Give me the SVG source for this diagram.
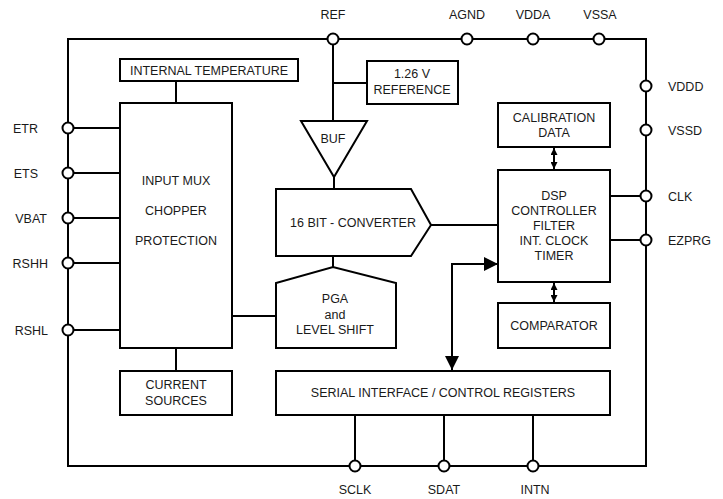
<svg xmlns="http://www.w3.org/2000/svg" width="723" height="499" viewBox="0 0 723 499">
<defs>
<style>
.b{fill:#fff;stroke:#000;stroke-width:2}
.l{fill:none;stroke:#000;stroke-width:2}
.p{fill:#fff;stroke:#000;stroke-width:2}
text{font-family:"Liberation Sans",Arial,sans-serif;font-size:12.5px;fill:#1a1a1a}
.c{text-anchor:middle}
.r{text-anchor:end}
</style>
<marker id="big" viewBox="0 0 10 10" refX="10" refY="5" markerWidth="18" markerHeight="14" markerUnits="userSpaceOnUse" orient="auto-start-reverse"><path d="M0,0L10,5L0,10z" fill="#000"/></marker>
<marker id="sm" viewBox="0 0 10 10" refX="10" refY="5" markerWidth="7" markerHeight="7" markerUnits="userSpaceOnUse" orient="auto-start-reverse"><path d="M0,0L10,5L0,10z" fill="#000"/></marker>
</defs>
<rect width="723" height="499" fill="#fff"/>
<g id="connectors">
<rect class="l" x="68" y="39" width="578" height="427"/>
<path class="l" d="M68,128H120M68,173H120M68,218H120M68,263H120M68,330H120"/>
<path class="l" d="M176,81V103M176,348V371M232,316H276"/>
<path class="l" d="M333,39V121M333,83H367M334,177V189M333,256V267"/>
<path class="l" d="M431,225H498M610,196H646M610,240H646"/>
<path class="l" d="M355,415V466M444,415V466M533,415V466"/>
<path class="l" d="M554,148V169" stroke-width="1.5" marker-start="url(#sm)" marker-end="url(#sm)"/>
<path class="l" d="M554,283V302" stroke-width="1.5" marker-start="url(#sm)" marker-end="url(#sm)"/>
<path class="l" d="M452,370V264H498" marker-start="url(#big)" marker-end="url(#big)"/>
</g>
<g id="pins">
<circle class="p" cx="333" cy="39" r="5.5"/>
<circle class="p" cx="467" cy="39" r="5.5"/>
<circle class="p" cx="533" cy="39" r="5.5"/>
<circle class="p" cx="599" cy="39" r="5.5"/>
<circle class="p" cx="646" cy="86" r="5.5"/>
<circle class="p" cx="646" cy="130" r="5.5"/>
<circle class="p" cx="646" cy="196" r="5.5"/>
<circle class="p" cx="646" cy="240" r="5.5"/>
<circle class="p" cx="68" cy="128" r="5.5"/>
<circle class="p" cx="68" cy="173" r="5.5"/>
<circle class="p" cx="68" cy="218" r="5.5"/>
<circle class="p" cx="68" cy="263" r="5.5"/>
<circle class="p" cx="68" cy="330" r="5.5"/>
<circle class="p" cx="355" cy="466" r="5.5"/>
<circle class="p" cx="444" cy="466" r="5.5"/>
<circle class="p" cx="533" cy="466" r="5.5"/>
<text class="c" x="333" y="19">REF</text>
<text class="c" x="467" y="19">AGND</text>
<text class="c" x="533" y="19">VDDA</text>
<text class="c" x="600" y="19">VSSA</text>
<text x="668" y="91">VDDD</text>
<text x="668" y="135">VSSD</text>
<text x="668" y="201">CLK</text>
<text x="668" y="245">EZPRG</text>
<text class="r" x="38" y="133">ETR</text>
<text class="r" x="38" y="178">ETS</text>
<text class="r" x="47" y="223">VBAT</text>
<text class="r" x="48" y="268">RSHH</text>
<text class="r" x="48" y="335">RSHL</text>
<text class="c" x="355" y="494">SCLK</text>
<text class="c" x="444" y="494">SDAT</text>
<text class="c" x="535" y="494">INTN</text>
</g>
<g id="internal-temperature">
<rect class="b" x="120" y="59" width="178" height="22"/>
<text class="c" x="209" y="75">INTERNAL TEMPERATURE</text>
</g>
<g id="input-mux">
<rect class="b" x="120" y="103" width="112" height="245"/>
<text class="c" x="176" y="185">INPUT MUX</text>
<text class="c" x="176" y="215">CHOPPER</text>
<text class="c" x="176" y="245">PROTECTION</text>
</g>
<g id="current-sources">
<rect class="b" x="120" y="371" width="112" height="44"/>
<text class="c" x="176" y="389">CURRENT</text>
<text class="c" x="176" y="405">SOURCES</text>
</g>
<g id="reference">
<rect class="b" x="367" y="61" width="91" height="43"/>
<text class="c" x="412" y="78">1.26 V</text>
<text class="c" x="412" y="94">REFERENCE</text>
</g>
<g id="buf">
<path class="b" d="M301,121H367L334,177Z"/>
<text class="c" x="333" y="143">BUF</text>
</g>
<g id="converter">
<path class="b" d="M276,189H411L431,225L411,256H276Z"/>
<text class="c" x="353" y="227">16 BIT - CONVERTER</text>
</g>
<g id="pga">
<path class="b" d="M276,348V283L333,267L396,283V348Z"/>
<text class="c" x="335" y="303">PGA</text>
<text class="c" x="335" y="319">and</text>
<text class="c" x="335" y="334">LEVEL SHIFT</text>
</g>
<g id="calibration">
<rect class="b" x="498" y="103" width="112" height="44"/>
<text class="c" x="554" y="122">CALIBRATION</text>
<text class="c" x="554" y="137">DATA</text>
</g>
<g id="dsp">
<rect class="b" x="498" y="170" width="112" height="112"/>
<text class="c" x="554" y="200">DSP</text>
<text class="c" x="554" y="215">CONTROLLER</text>
<text class="c" x="554" y="230">FILTER</text>
<text class="c" x="554" y="245">INT. CLOCK</text>
<text class="c" x="554" y="260">TIMER</text>
</g>
<g id="comparator">
<rect class="b" x="498" y="303" width="112" height="45"/>
<text class="c" x="554" y="330">COMPARATOR</text>
</g>
<g id="serial">
<rect class="b" x="276" y="371" width="334" height="44"/>
<text class="c" x="443" y="397">SERIAL INTERFACE / CONTROL REGISTERS</text>
</g>
</svg>
